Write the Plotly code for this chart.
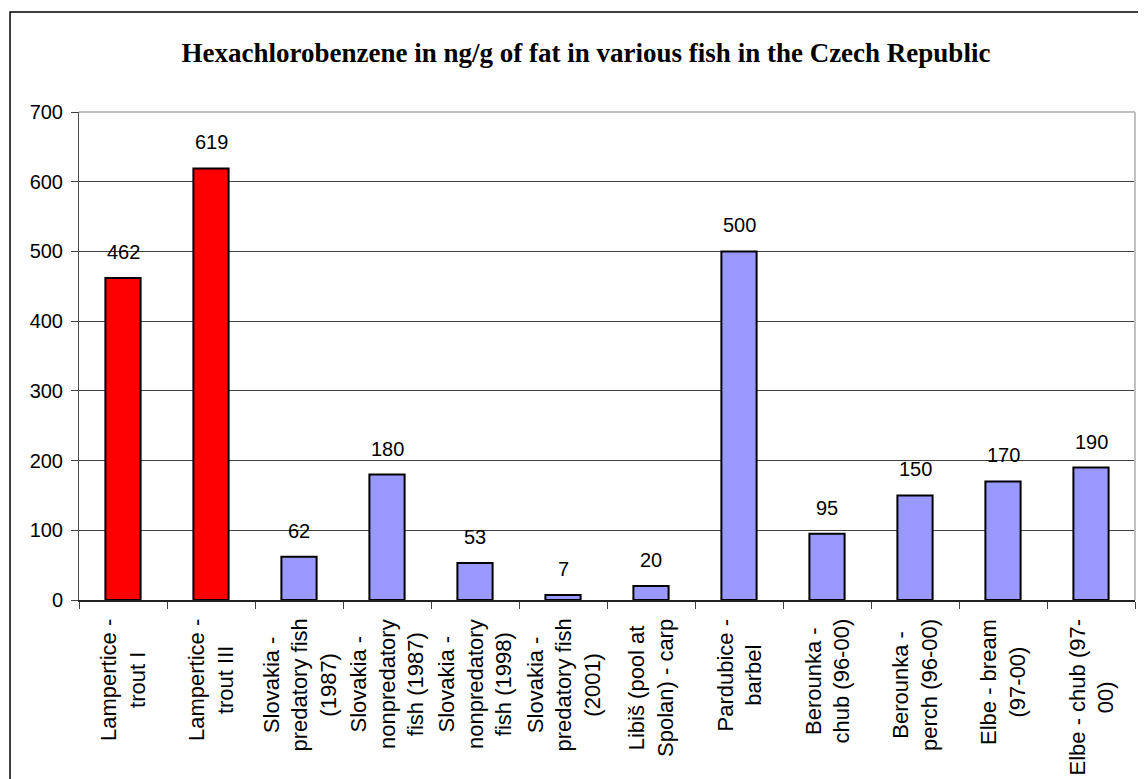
import plotly.graph_objects as go

categories = [
    "Lampertice -<br>trout I",
    "Lampertice -<br>trout III",
    "Slovakia -<br>predatory fish<br>(1987)",
    "Slovakia -<br>nonpredatory<br>fish (1987)",
    "Slovakia -<br>nonpredatory<br>fish (1998)",
    "Slovakia -<br>predatory fish<br>(2001)",
    "Libiš (pool at<br>Spolan) - carp",
    "Pardubice -<br>barbel",
    "Berounka -<br>chub (96-00)",
    "Berounka -<br>perch (96-00)",
    "Elbe - bream<br>(97-00)",
    "Elbe - chub (97-<br>00)",
]
values = [462, 619, 62, 180, 53, 7, 20, 500, 95, 150, 170, 190]
highlight = [True, True, False, False, False, False, False, False, False, False, False, False]
y_ticks = [0, 100, 200, 300, 400, 500, 600, 700]

RED = "#FF0000"
LAV = "#9999FF"
colors = [RED if h else LAV for h in highlight]

W, H = 1138, 771  # page body adds an 8px margin on the left/top

fig = go.Figure()
fig.add_trace(go.Bar(
    x=categories, y=values,
    marker=dict(color=colors, line=dict(color="#000000", width=2)),
    hoverinfo="skip",
))

annotations = []
for c, v in zip(categories, values):
    annotations.append(dict(
        x=c, y=v, xref="x", yref="y", text=str(v), showarrow=False,
        yanchor="bottom", yshift=13,
        font=dict(family="Arial, Liberation Sans, sans-serif", size=20, color="#000000"),
    ))
for c in categories:
    annotations.append(dict(
        x=c, y=0, xref="x", yref="paper", text=c, showarrow=False,
        textangle=-90, align="center", yanchor="top", xanchor="center",
        yshift=-17,
        font=dict(family="Arial, Liberation Sans, sans-serif", size=22, color="#000000"),
    ))

shapes = [
    # outer chart frame
    dict(type="rect", xref="paper", yref="paper", x0=-0.0653, x1=1.2, y0=-0.6, y1=1.2049,
         line=dict(color="#000000", width=1.5), fillcolor="rgba(0,0,0,0)", layer="above"),
    # plot area border (top / right)
    dict(type="line", xref="paper", yref="paper", x0=0, x1=1, y0=1, y1=1,
         line=dict(color="#C0C0C0", width=2), layer="above"),
    dict(type="line", xref="paper", yref="paper", x0=1, x1=1, y0=0, y1=1,
         line=dict(color="#C0C0C0", width=2), layer="above"),
]

fig.update_layout(
    width=W, height=H,
    margin=dict(l=71, r=11, t=104, b=179),
    paper_bgcolor="#FFFFFF", plot_bgcolor="#FFFFFF",
    showlegend=False,
    bargap=0.6,
    title=dict(
        text="<b>Hexachlorobenzene in ng/g of fat in various fish in the Czech Republic</b>",
        font=dict(family="Liberation Serif, Times New Roman, serif", size=27, color="#000000"),
        x=578 / W, xanchor="center", xref="container",
        y=1 - 45 / H, yanchor="middle", yref="container",
    ),
    xaxis=dict(
        type="category", showticklabels=False,
        ticks="outside", ticklen=7, tickcolor="#404040", tickson="boundaries",
        showline=True, linecolor="#202020", linewidth=1.5,
        showgrid=False, zeroline=False,
    ),
    yaxis=dict(
        range=[0, 700], tickvals=y_ticks, ticks="outside", ticklen=7, tickcolor="#404040",
        showline=True, linecolor="#505050", linewidth=1,
        showgrid=True, gridcolor="#404040", gridwidth=1, zeroline=False,
        tickfont=dict(family="Arial, Liberation Sans, sans-serif", size=20, color="#000000"),
        ticklabelstandoff=4,
    ),
    annotations=annotations,
    shapes=shapes,
)

fig.write_html("out.html")
